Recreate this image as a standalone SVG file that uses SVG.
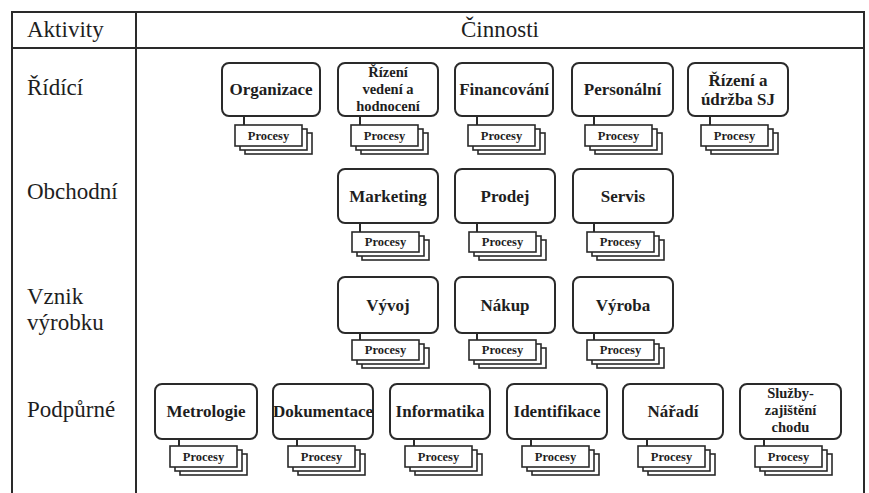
<svg xmlns="http://www.w3.org/2000/svg" width="869" height="493" viewBox="0 0 869 493">
<style>
text{font-family:'Liberation Serif','Times New Roman',serif;fill:#1e1e1e}
.grid{stroke:#2a2a2a;stroke-width:2;fill:none}
.hdr{font-size:23px}
.box{fill:#fff;stroke:#2a2a2a;stroke-width:2}
.card{fill:#fff;stroke:#2a2a2a;stroke-width:1.6}
.t{font-weight:bold;font-size:17px;text-anchor:middle}
.t2{font-weight:bold;font-size:14.5px;text-anchor:middle}
.p{font-weight:bold;font-size:12.5px;text-anchor:middle}
.c{stroke:#2a2a2a;stroke-width:2;fill:none}
</style>
<rect width="869" height="493" fill="#fff"/>
<g id="table">
<path class="grid" d="M12 493 V12 H864 V493 M12 48 H864 M136 12 V493"/>
<text class="hdr" x="27" y="37">Aktivity</text>
<text class="hdr" x="500" y="37" text-anchor="middle">Činnosti</text>
<text class="hdr" x="27" y="95">Řídící</text>
<text class="hdr" x="27" y="199">Obchodní</text>
<text class="hdr" x="27" y="304">Vznik</text>
<text class="hdr" x="27" y="330">výrobku</text>
<text class="hdr" x="27" y="417">Podpůrné</text>
</g>
<g id="connectors">
<path class="c" d="M244 116 V125 M360 116 V125 M477 116 V125 M594 116 V125 M710 116 V125"/>
<path class="c" d="M360 223 V232 M477 223 V232 M594 223 V232"/>
<path class="c" d="M360 333 V340 M477 333 V340 M594 333 V340"/>
<path class="c" d="M179 439 V446 M297 439 V446 M414 439 V446 M531 439 V446 M647 439 V446 M764 439 V446"/>
</g>
<g id="organizace">
<rect class="box" x="222" y="63" width="98" height="53" rx="7"/>
<text class="t" x="271" y="95">Organizace</text>
<rect class="card" x="245" y="133" width="67" height="21"/><rect class="card" x="240" y="129" width="67" height="21"/><rect class="card" x="235" y="125" width="67" height="21"/>
<text class="p" x="268.5" y="140">Procesy</text>
</g>
<g id="rizeni-vedeni">
<rect class="box" x="338" y="63" width="100" height="53" rx="7"/>
<text class="t2" x="388" y="77">Řízení</text>
<text class="t2" x="388" y="94">vedení a</text>
<text class="t2" x="388" y="111">hodnocení</text>
<rect class="card" x="361" y="133" width="67" height="21"/><rect class="card" x="356" y="129" width="67" height="21"/><rect class="card" x="351" y="125" width="67" height="21"/>
<text class="p" x="384.5" y="140">Procesy</text>
</g>
<g id="financovani">
<rect class="box" x="455" y="63" width="98" height="53" rx="7"/>
<text class="t" x="504" y="95">Financování</text>
<rect class="card" x="478" y="133" width="67" height="21"/><rect class="card" x="473" y="129" width="67" height="21"/><rect class="card" x="468" y="125" width="67" height="21"/>
<text class="p" x="501.5" y="140">Procesy</text>
</g>
<g id="personalni">
<rect class="box" x="572" y="63" width="101" height="53" rx="7"/>
<text class="t" x="622.5" y="95">Personální</text>
<rect class="card" x="595" y="133" width="67" height="21"/><rect class="card" x="590" y="129" width="67" height="21"/><rect class="card" x="585" y="125" width="67" height="21"/>
<text class="p" x="618.5" y="140">Procesy</text>
</g>
<g id="rizeni-udrzba">
<rect class="box" x="688" y="63" width="100" height="53" rx="7"/>
<text class="t" x="738" y="86">Řízení a</text>
<text class="t" x="738" y="105">údržba SJ</text>
<rect class="card" x="711" y="133" width="67" height="21"/><rect class="card" x="706" y="129" width="67" height="21"/><rect class="card" x="701" y="125" width="67" height="21"/>
<text class="p" x="734.5" y="140">Procesy</text>
</g>
<g id="marketing">
<rect class="box" x="338" y="169" width="100" height="54" rx="7"/>
<text class="t" x="388" y="202">Marketing</text>
<rect class="card" x="362" y="240" width="67" height="20"/><rect class="card" x="357" y="236" width="67" height="20"/><rect class="card" x="352" y="232" width="67" height="20"/>
<text class="p" x="385.5" y="246">Procesy</text>
</g>
<g id="prodej">
<rect class="box" x="455" y="169" width="100" height="54" rx="7"/>
<text class="t" x="505" y="202">Prodej</text>
<rect class="card" x="479" y="240" width="67" height="20"/><rect class="card" x="474" y="236" width="67" height="20"/><rect class="card" x="469" y="232" width="67" height="20"/>
<text class="p" x="502.5" y="246">Procesy</text>
</g>
<g id="servis">
<rect class="box" x="573" y="169" width="100" height="54" rx="7"/>
<text class="t" x="623" y="202">Servis</text>
<rect class="card" x="597" y="240" width="67" height="20"/><rect class="card" x="592" y="236" width="67" height="20"/><rect class="card" x="587" y="232" width="67" height="20"/>
<text class="p" x="620.5" y="246">Procesy</text>
</g>
<g id="vyvoj">
<rect class="box" x="338" y="277" width="100" height="56" rx="7"/>
<text class="t" x="388" y="311">Vývoj</text>
<rect class="card" x="362" y="348" width="67" height="20"/><rect class="card" x="357" y="344" width="67" height="20"/><rect class="card" x="352" y="340" width="67" height="20"/>
<text class="p" x="385.5" y="354">Procesy</text>
</g>
<g id="nakup">
<rect class="box" x="455" y="277" width="100" height="56" rx="7"/>
<text class="t" x="505" y="311">Nákup</text>
<rect class="card" x="479" y="348" width="67" height="20"/><rect class="card" x="474" y="344" width="67" height="20"/><rect class="card" x="469" y="340" width="67" height="20"/>
<text class="p" x="502.5" y="354">Procesy</text>
</g>
<g id="vyroba">
<rect class="box" x="573" y="277" width="100" height="56" rx="7"/>
<text class="t" x="623" y="311">Výroba</text>
<rect class="card" x="597" y="348" width="67" height="20"/><rect class="card" x="592" y="344" width="67" height="20"/><rect class="card" x="587" y="340" width="67" height="20"/>
<text class="p" x="620.5" y="354">Procesy</text>
</g>
<g id="metrologie">
<rect class="box" x="155" y="384" width="102" height="55" rx="7"/>
<text class="t" x="206" y="417">Metrologie</text>
<rect class="card" x="180" y="454" width="67" height="21"/><rect class="card" x="175" y="450" width="67" height="21"/><rect class="card" x="170" y="446" width="67" height="21"/>
<text class="p" x="203.5" y="461">Procesy</text>
</g>
<g id="dokumentace">
<rect class="box" x="273" y="384" width="100" height="55" rx="7"/>
<text class="t" x="323" y="417">Dokumentace</text>
<rect class="card" x="298" y="454" width="67" height="21"/><rect class="card" x="293" y="450" width="67" height="21"/><rect class="card" x="288" y="446" width="67" height="21"/>
<text class="p" x="321.5" y="461">Procesy</text>
</g>
<g id="informatika">
<rect class="box" x="390" y="384" width="100" height="55" rx="7"/>
<text class="t" x="440" y="417">Informatika</text>
<rect class="card" x="415" y="454" width="67" height="21"/><rect class="card" x="410" y="450" width="67" height="21"/><rect class="card" x="405" y="446" width="67" height="21"/>
<text class="p" x="438.5" y="461">Procesy</text>
</g>
<g id="identifikace">
<rect class="box" x="507" y="384" width="100" height="55" rx="7"/>
<text class="t" x="557" y="417">Identifikace</text>
<rect class="card" x="532" y="454" width="67" height="21"/><rect class="card" x="527" y="450" width="67" height="21"/><rect class="card" x="522" y="446" width="67" height="21"/>
<text class="p" x="555.5" y="461">Procesy</text>
</g>
<g id="naradi">
<rect class="box" x="623" y="384" width="100" height="55" rx="7"/>
<text class="t" x="673" y="417">Nářadí</text>
<rect class="card" x="648" y="454" width="67" height="21"/><rect class="card" x="643" y="450" width="67" height="21"/><rect class="card" x="638" y="446" width="67" height="21"/>
<text class="p" x="671.5" y="461">Procesy</text>
</g>
<g id="sluzby">
<rect class="box" x="740" y="384" width="101" height="55" rx="7"/>
<text class="t2" x="790.5" y="398">Služby-</text>
<text class="t2" x="790.5" y="415">zajištění</text>
<text class="t2" x="790.5" y="432">chodu</text>
<rect class="card" x="765" y="454" width="67" height="21"/><rect class="card" x="760" y="450" width="67" height="21"/><rect class="card" x="755" y="446" width="67" height="21"/>
<text class="p" x="788.5" y="461">Procesy</text>
</g>
</svg>
